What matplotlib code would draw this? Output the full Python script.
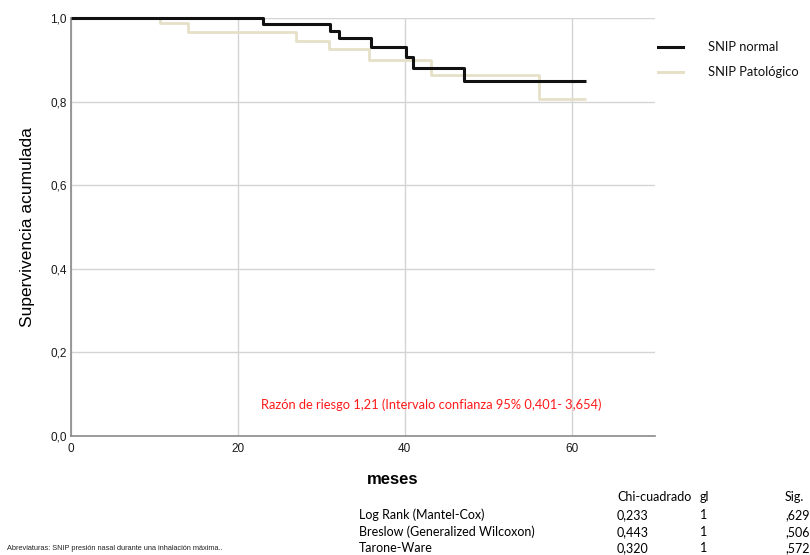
import matplotlib
matplotlib.use("Agg")
import matplotlib.pyplot as plt
import numpy as np

# Kaplan-Meier step curves (months, cumulative survival)
normal_t = [0, 23.0, 31.1, 32.1, 36.0, 40.1, 41.0, 47.1, 61.7]
normal_s = [1.0, 0.986, 0.970, 0.953, 0.931, 0.907, 0.881, 0.849, 0.849]

patol_t = [0, 10.7, 14.0, 27.0, 30.9, 35.7, 43.1, 56.1, 61.7]
patol_s = [1.0, 0.987, 0.966, 0.945, 0.925, 0.899, 0.863, 0.806, 0.806]

x_ticks = [0, 20, 40, 60]
y_ticks = [0.0, 0.2, 0.4, 0.6, 0.8, 1.0]
y_tick_labels = ["0,0", "0,2", "0,4", "0,6", "0,8", "1,0"]

series_labels = ["SNIP normal", "SNIP Patológico"]
series_colors = ["#111111", "#e6e0c8"]

test_header = ["Chi-cuadrado", "gl", "Sig."]
test_names = ["Log Rank (Mantel-Cox)", "Breslow (Generalized Wilcoxon)", "Tarone-Ware"]
test_chi = ["0,233", "0,443", "0,320"]
test_gl = ["1", "1", "1"]
test_sig = [",629", ",506", ",572"]

hazard_text = "Razón de riesgo 1,21 (Intervalo confianza 95% 0,401- 3,654)"
abbrev_text = "Abreviaturas: SNIP presión nasal durante una inhalación máxima.."

fig = plt.figure(figsize=(8.1, 5.55), dpi=100)
ax = fig.add_axes([71 / 810, 1 - 436 / 555, (655 - 71) / 810, (436 - 18) / 555])

ax.set_xlim(0, 70)
ax.set_ylim(0, 1.0)
ax.set_xticks(x_ticks)
ax.set_yticks(y_ticks)
ax.set_yticklabels(y_tick_labels)
ax.tick_params(length=0, labelsize=8.5)
ax.tick_params(axis="x", pad=5)
ax.tick_params(axis="y", pad=3)
for lab in ax.get_xticklabels() + ax.get_yticklabels():
    lab.set_family("Liberation Sans")
    lab.set_color("#1a1a1a")

ax.grid(True, color="#d4d4d4", linewidth=1.0)
ax.set_axisbelow(True)
for side in ["top", "right"]:
    ax.spines[side].set_visible(False)
for side in ["left", "bottom"]:
    ax.spines[side].set_color("#8a8a8a")
    ax.spines[side].set_linewidth(1.2)

ax.step(patol_t, patol_s, where="post", color=series_colors[1], linewidth=2.0,
        solid_capstyle="butt", clip_on=False, zorder=3)
ax.step(normal_t, normal_s, where="post", color=series_colors[0], linewidth=2.2,
        solid_capstyle="butt", clip_on=False, zorder=4)

ax.set_ylabel("Supervivencia acumulada", family="Liberation Sans", fontsize=12.5)
ax.yaxis.set_label_coords(-36 / 584, 0.5)
fig.text(393 / 810, 1 - 479 / 555, "meses", family="Liberation Sans",
         fontsize=12, fontweight="bold", ha="center", va="center")

ax.text(431 / 810, 1 - 405 / 555, hazard_text, transform=fig.transFigure,
        color="#ff1a1a", family="Lato", fontsize=9.3, ha="center", va="center")

# Legend drawn as lines and labels to the right of the plot
for i, (lab, col) in enumerate(zip(series_labels, series_colors)):
    yy = 1 - (47 + i * 25) / 555
    fig.add_artist(plt.Line2D([658 / 810, 683 / 810], [yy, yy], color=col,
                              linewidth=2.2, transform=fig.transFigure))
    fig.text(708 / 810, yy, lab, family="Lato", fontsize=9.3, ha="left",
             va="center", color="#111111")

# Comparison tests table
fs_tab = 9.0
row_y = [515, 532, 548]
col_x = [617, 700, 785]
for hx, h in zip(col_x, test_header):
    fig.text(hx / 810, 1 - 497 / 555, h, family="Lato", fontsize=fs_tab,
             ha="left", va="center")
for name, chi, gl, sig, yp in zip(test_names, test_chi, test_gl, test_sig, row_y):
    y = 1 - yp / 555
    fig.text(359 / 810, y, name, family="Lato", fontsize=fs_tab, ha="left", va="center")
    fig.text(col_x[0] / 810, y, chi, family="Lato", fontsize=fs_tab, ha="left", va="center")
    fig.text(col_x[1] / 810, y, gl, family="Lato", fontsize=fs_tab, ha="left", va="center")
    fig.text(col_x[2] / 810, y, sig, family="Lato", fontsize=fs_tab, ha="left", va="center")

fig.text(7 / 810, 1 - 549 / 555, abbrev_text, family="Liberation Sans",
         fontsize=5.3, ha="left", va="center", color="#222222")

fig.savefig("out.png", dpi=100)
